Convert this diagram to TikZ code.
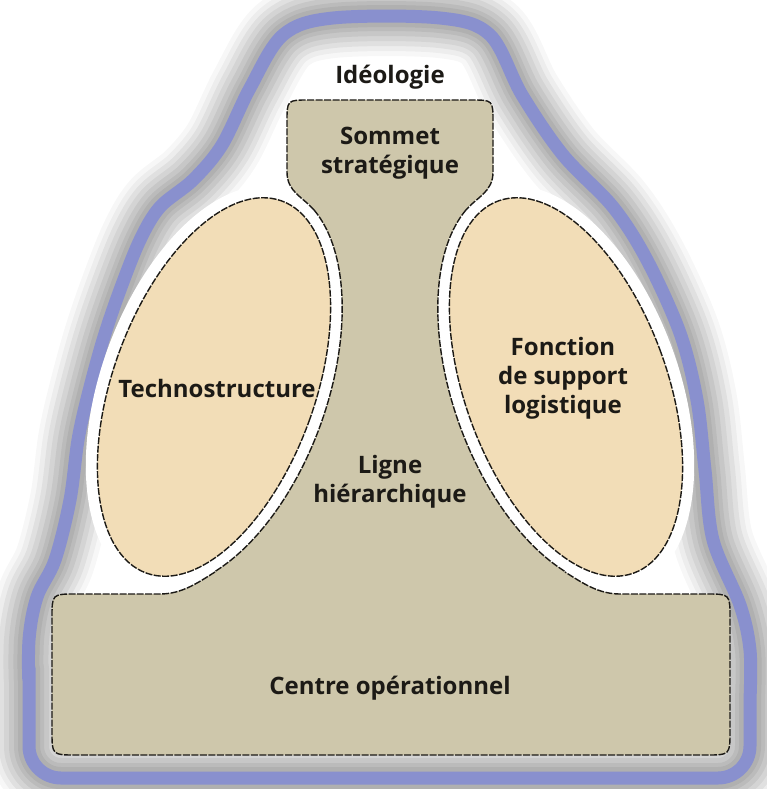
\documentclass[tikz,border=0pt]{standalone}
\usepackage{fontspec}
\setmainfont{Open Sans}
\definecolor{ideoblue}{RGB}{137,144,206}
\definecolor{corekhaki}{RGB}{206,199,171}
\definecolor{staffbeige}{RGB}{242,221,183}
\definecolor{inkdark}{RGB}{28,26,22}

\begin{document}
\begin{tikzpicture}[
    x=1pt, y=-1pt,
    core/.style={fill=corekhaki},
    gap/.style={fill=white},
    rim/.style={draw=inkdark, line width=1.4pt, dash pattern=on 7pt off 1.5pt},
    staff/.style={rim, fill=staffbeige},
    part/.style={font=\bfseries\fontsize{24}{29}\selectfont, align=center, text=inkdark}
]

\useasboundingbox (0,0) rectangle (767,789);
\fill[white] (0,0) rectangle (767,789);
\clip (0,0) rectangle (767,789);

% ideology rim with its soft shadow
\foreach \w/\c/\o in {80/black/0.03, 70/black/0.04, 60/black/0.05, 50/black/0.05, 40/black/0.06,
        30/black/0.06, 22/black/0.06, 13/ideoblue/1}
    \draw[line width=\w pt, draw=\c, opacity=\o, line join=round]
        plot[smooth, tension=0.55] coordinates {(29,700) (29,640) (37,597) (55,560) (70,500) (78,440)
            (88,395) (103,340) (120,290) (140,240) (160,207) (193,180) (222,145) (250,88) (283,35)
            (333,18) (440,18) (490,35) (522,95) (563,155) (613,207) (647,260) (680,333) (697,400)
            (705,470) (713,540) (740,605) (750,650) (750,700)}
        [rounded corners=32pt] -- (750,778) -- (29,778) -- cycle;

% apex, middle line and operating core
\fill[core] (160,594) .. controls (182,594) and (198,582.6) .. (215,572)
    -- (214,387) -- (314,210)
    .. controls (303,197) and (287,192) .. (287,172)
    -- (287,122) .. controls (287,100) .. (309,100)
    -- (471,100) .. controls (493,100) .. (493,122)
    -- (493,172) .. controls (493,192) and (477,197) .. (466,210)
    -- (566,387) -- (565,572)
    .. controls (582,582.6) and (598,594) .. (620,594)
    -- (706,594) .. controls (730,594) .. (730,618)
    -- (730,731) .. controls (730,755) .. (706,755)
    -- (76,755) .. controls (52,755) .. (52,731)
    -- (52,618) .. controls (52,594) .. (76,594)
    -- cycle;
\fill[gap, rotate around={-20:(214,387)}] (214,387) ellipse [x radius=113pt, y radius=210pt];
\fill[gap, rotate around={20:(566,387)}] (566,387) ellipse [x radius=113pt, y radius=210pt];

\draw[rim] (314,210) .. controls (303,197) and (287,192) .. (287,172)
    -- (287,122) .. controls (287,100) .. (309,100)
    -- (471,100) .. controls (493,100) .. (493,122)
    -- (493,172) .. controls (493,192) and (477,197) .. (466,210);
\draw[rim] (215,572) .. controls (198,582.6) and (182,594) .. (160,594)
    -- (76,594) .. controls (52,594) .. (52,618)
    -- (52,731) .. controls (52,755) .. (76,755)
    -- (706,755) .. controls (730,755) .. (730,731)
    -- (730,618) .. controls (730,594) .. (706,594)
    -- (620,594) .. controls (598,594) and (582,582.6) .. (565,572);
\draw[rim, shift={(214,387)}, rotate=-20] (72.8:113pt and 210pt)
    arc [start angle=72.8, end angle=-55.6, x radius=113pt, y radius=210pt];
\draw[rim, shift={(566,387)}, rotate=20] (107.2:113pt and 210pt)
    arc [start angle=107.2, end angle=235.6, x radius=113pt, y radius=210pt];

% technostructure and support staff
\draw[staff, rotate around={-20:(214,387)}] (214,387) ellipse [x radius=101pt, y radius=198pt];
\draw[staff, rotate around={20:(566,387)}] (566,387) ellipse [x radius=101pt, y radius=198pt];

\node[part] (ideologie) at (390,77) {Idéologie};
\node[part] (sommet) at (390,153) {Sommet\\stratégique};
\node[part] (technostructure) at (217,388) {Technostructure};
\node[part] (support) at (563,378) {Fonction\\de support\\logistique};
\node[part] (ligne) at (390,482) {Ligne\\hiérarchique};
\node[part] (centre) at (390,688) {Centre opérationnel};

\end{tikzpicture}
\end{document}
